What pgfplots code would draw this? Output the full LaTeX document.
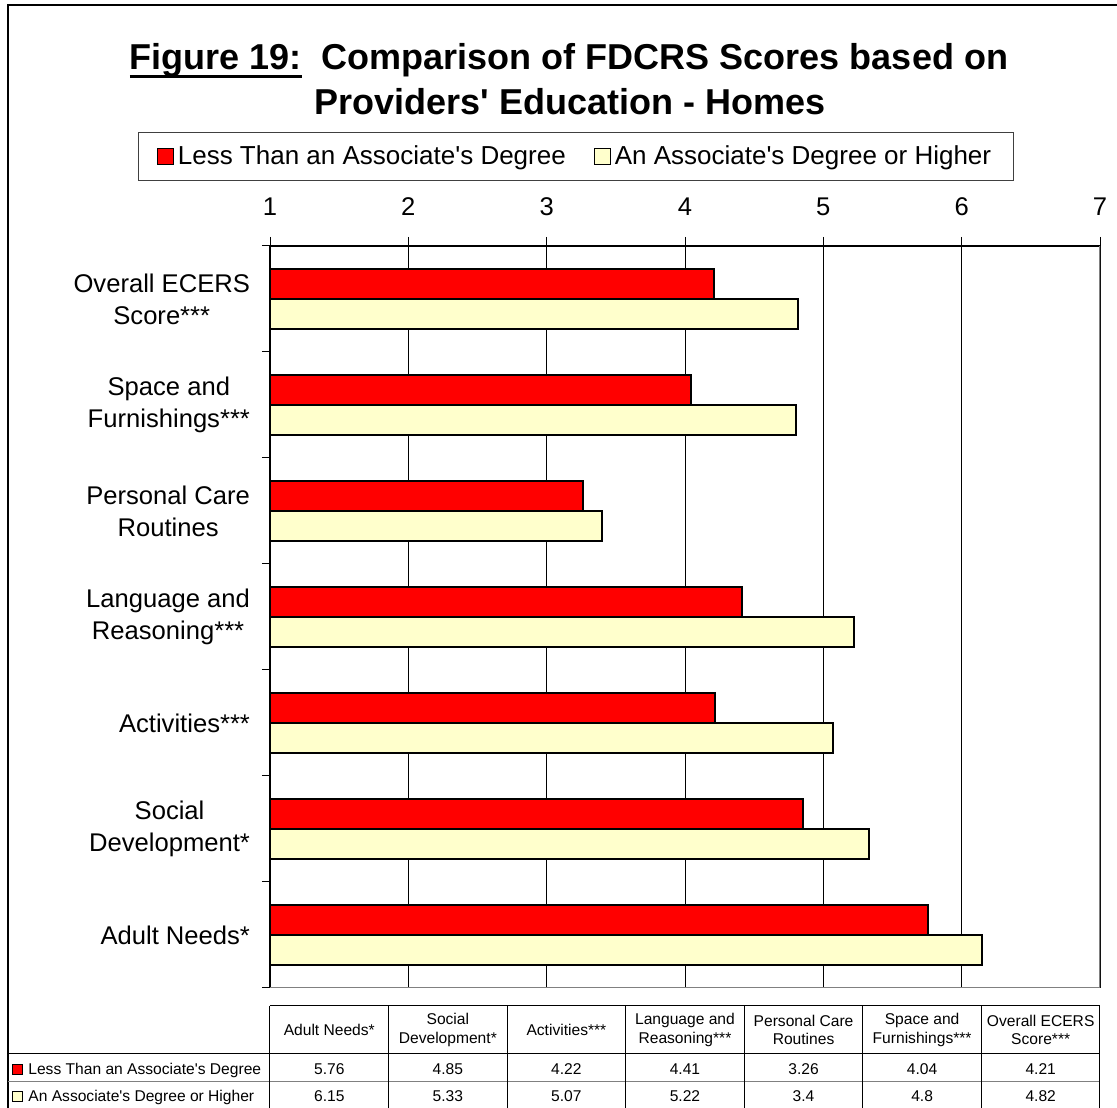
\documentclass[border=0pt]{standalone}
\usepackage{fontspec}
\setmainfont{Liberation Sans}
\usepackage{pgfplots}
\pgfplotsset{compat=1.18}

\definecolor{barred}{RGB}{255,0,0}
\definecolor{baryellow}{RGB}{255,255,204}
\definecolor{framegray}{RGB}{128,128,128}

% underline with a thick rule, as in the title
\newcommand\ulfig[1]{\setbox0\hbox{#1}\rlap{\rule[-4bp]{\wd0}{1.5bp}}\box0}
\newcommand\q{\textquotesingle}

\begin{document}
\begin{tikzpicture}
\useasboundingbox (0,0) rectangle (558.5bp,554bp);
\begin{axis}[
  at={(135bp,60bp)}, anchor=south west,
  scale only axis, width=415bp, height=371bp,
  xbar, bar width=15bp,
  xmin=1, xmax=7, ymin=-0.5, ymax=6.5,
  axis x line*=top, axis y line*=left,
  axis line style={black, line width=1bp},
  xtick={1,...,7},
  xmajorgrids, grid style={black, line width=0.5bp},
  tick align=outside, major tick length=4.5bp, minor tick length=4bp,
  tick style={black, line width=0.5bp},
  ytick={0,...,6},
  yticklabels={Adult Needs*, Social\\Development*, Activities***,
    Language and\\Reasoning***, Personal Care\\Routines,
    Space and\\Furnishings***, Overall ECERS\\Score***},
  major y tick style={draw=none},
  minor ytick={-0.5,0.5,...,6.5},
  ticklabel style={font=\fontsize{12.8bp}{16bp}\selectfont},
  y tick label style={align=center, xshift=-2bp},
  x tick label style={yshift=7bp},
  /pgf/number format/assume math mode=true,
  legend columns=2,
  legend style={at={(0.3687,1.1206)}, anchor=center,
    draw=black!75, line width=0.5bp,
    font=\fontsize{13bp}{15bp}\selectfont,
    inner xsep=9bp, inner ysep=4.5bp,
    /tikz/every even column/.append style={column sep=12bp}},
  legend image code/.code={\draw[#1, line width=0.5bp] (-1bp,-4bp) rectangle (7bp,4bp);},
]
\addplot[fill=barred, draw=black, line width=1bp, bar shift=7.5bp] coordinates
  {(5.76,0) (4.85,1) (4.22,2) (4.41,3) (3.26,4) (4.04,5) (4.21,6)};
\addplot[fill=baryellow, draw=black, line width=1bp, bar shift=-7.5bp] coordinates
  {(6.15,0) (5.33,1) (5.07,2) (5.22,3) (3.4,4) (4.8,5) (4.82,6)};
\legend{Less Than an Associate\q s Degree, An Associate\q s Degree or Higher}
\draw[framegray, line width=1bp] (rel axis cs:0,0) -- (rel axis cs:1,0) -- (rel axis cs:1,1);
\end{axis}

% everything else in pixel units, y downwards
\begin{scope}[x=0.5bp, y=-0.5bp, yshift=554bp]
  \draw[line width=1bp] (1120,5) -- (8,5) -- (8,1112);
  \node[font=\bfseries\fontsize{18bp}{22bp}\selectfont, anchor=base] at (569,70)
    {\ulfig{Figure 19:}\ \ Comparison of FDCRS Scores based on};
  \node[font=\bfseries\fontsize{18bp}{22bp}\selectfont, anchor=base] at (570,115)
    {Providers\q\ Education - Homes};

  % data table
  \draw[line width=0.5bp] (270,1006) -- (1100,1006);
  \draw[line width=0.5bp] (8,1054) -- (1100,1054);
  \draw[line width=0.5bp, framegray] (8,1082) -- (1100,1082);
  \foreach \k in {0,...,7}
    \draw[line width=0.5bp] ({270+118.571*\k},1006) -- ({270+118.571*\k},1112);
  \foreach \t [count=\k from 0] in {{Adult Needs*},{Social\\Development*},{Activities***},
      {Language and\\Reasoning***},{Personal Care\\Routines},{Space and\\Furnishings***},
      {Overall ECERS\\Score***}}
    \node[font=\fontsize{7.8bp}{9.2bp}\selectfont, align=center] at ({270+118.571*(\k+0.5)},1030) {\t};
  \foreach \v [count=\k from 0] in {5.76,4.85,4.22,4.41,3.26,4.04,4.21}
    \node[font=\fontsize{7.8bp}{9bp}\selectfont, anchor=base] at ({270+118.571*(\k+0.5)},1075) {\v};
  \foreach \v [count=\k from 0] in {6.15,5.33,5.07,5.22,3.4,4.8,4.82}
    \node[font=\fontsize{7.8bp}{9bp}\selectfont, anchor=base] at ({270+118.571*(\k+0.5)},1102) {\v};
  \draw[fill=barred, line width=0.5bp] (13,1065) rectangle (23,1075);
  \node[font=\fontsize{7.8bp}{9bp}\selectfont, anchor=base west, inner sep=0pt] at (28,1075)
    {Less Than an Associate\q s Degree};
  \draw[fill=baryellow, line width=0.5bp] (13,1092) rectangle (23,1102);
  \node[font=\fontsize{7.8bp}{9bp}\selectfont, anchor=base west, inner sep=0pt] at (28,1102)
    {An Associate\q s Degree or Higher};
\end{scope}
\end{tikzpicture}
\end{document}
